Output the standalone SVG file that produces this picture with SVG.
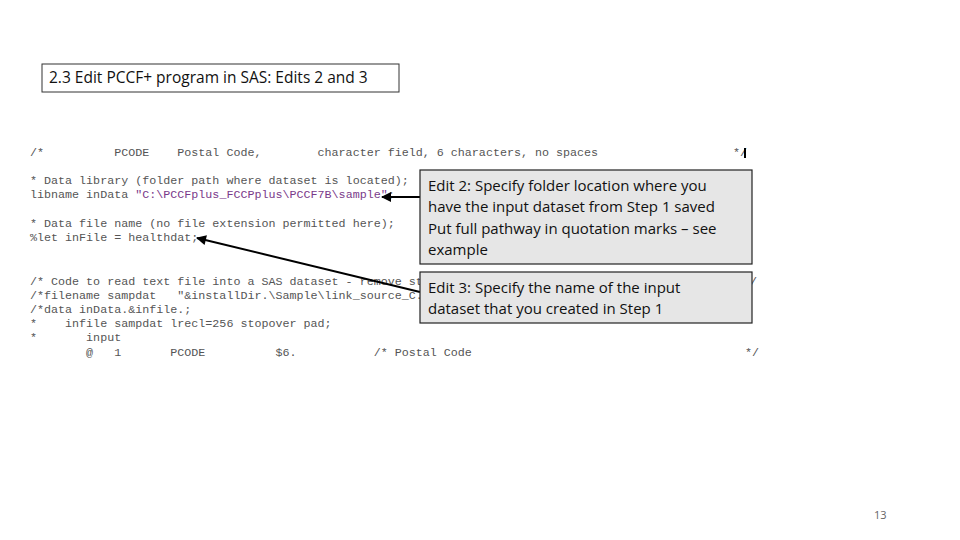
<svg xmlns="http://www.w3.org/2000/svg" width="960" height="540" viewBox="0 0 960 540">
<style>
.c{font-family:"Liberation Mono",monospace;font-size:11.7px;fill:#555;white-space:pre}
.p{fill:#7a3a8a}
.b{fill:#e6e6e6;stroke:#222;stroke-width:1.2}
.t{font-family:"Open Sans","Liberation Sans",sans-serif;font-size:15px;fill:#111}
</style>
<defs><marker id="a" viewBox="0 0 10 10" refX="9" refY="5" markerWidth="6" markerHeight="5" orient="auto"><path d="M0,0L10,5L0,10z" fill="#000"/></marker></defs>
<rect width="960" height="540" fill="#fff"/>
<g id="title"><rect x="42" y="64" width="357" height="28" fill="#fff" stroke="#333"/><text class="t" x="49" y="83" style="font-size:15.5px">2.3 Edit PCCF+ program in SAS: Edits 2 and 3</text></g>
<g id="code">
<text class="c" x="30" y="156">/*          PCODE    Postal Code,        character field, 6 characters, no spaces</text>
<text class="c" x="733" y="156">*/</text><rect x="744" y="148" width="2" height="10" fill="#000"/>
<text class="c" x="30" y="184">* Data library (folder path where dataset is located);</text>
<text class="c" x="30" y="198">libname inData <tspan class="p">"C:\PCCFplus_FCCPplus\PCCF7B\sample"</tspan>;</text>
<text class="c" x="30" y="227">* Data file name (no file extension permitted here);</text>
<text class="c" x="30" y="241">%let inFile = healthdat;</text>
<text class="c" x="30" y="285">/* Code to read text file into a SAS dataset - remove star</text>
<text class="c" x="750" y="285">/</text>
<text class="c" x="30" y="299">/*filename sampdat   "&amp;installDir.\Sample\link_source_C.s</text>
<text class="c" x="30" y="313">/*data inData.&amp;infile.;</text>
<text class="c" x="30" y="327">*    infile sampdat lrecl=256 stopover pad;</text>
<text class="c" x="30" y="341">*       input</text>
<text class="c" x="30" y="356">        @   1       PCODE          $6.           /* Postal Code</text>
<text class="c" x="745" y="356">*/</text>
</g>
<g id="connectors" stroke="#000" stroke-width="2" fill="none">
<line x1="420" y1="197" x2="382" y2="197" marker-end="url(#a)"/>
<line x1="420" y1="292" x2="197" y2="238" marker-end="url(#a)"/>
</g>
<g id="edit2"><rect class="b" x="420" y="170" width="332" height="94"/>
<text class="t" x="428" y="191">Edit 2: Specify folder location where you</text>
<text class="t" x="428" y="212">have the input dataset from Step 1 saved</text>
<text class="t" x="428" y="234">Put full pathway in quotation marks – see</text>
<text class="t" x="428" y="255">example</text></g>
<g id="edit3"><rect class="b" x="420" y="272" width="332" height="51"/>
<text class="t" x="428" y="293">Edit 3: Specify the name of the input</text>
<text class="t" x="428" y="314">dataset that you created in Step 1</text></g>
<text x="874" y="519" style="font-family:'Open Sans','Liberation Sans',sans-serif;font-size:11px;fill:#666">13</text>
</svg>
